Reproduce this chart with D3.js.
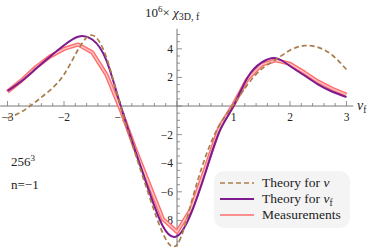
<!DOCTYPE html>
<html>
<head>
<meta charset="utf-8">
<script src="https://cdn.jsdelivr.net/npm/d3@7"></script>
<style>
  body { margin: 0; background: #fff; }
  svg text { font-family: "Liberation Serif", "Times New Roman", Times, "DejaVu Serif", serif; fill: #222; }
</style>
</head>
<body>
<div id="chart"></div>
<script>
var svgWidth = 374;
var svgHeight = 247;

// nu_f grid, step 0.25
var nu = [-3, -2.75, -2.5, -2.25, -2, -1.75, -1.5, -1.25, -1, -0.75, -0.5, -0.25,
          0, 0.25, 0.5, 0.75, 1, 1.25, 1.5, 1.75, 2, 2.25, 2.5, 2.75, 3];

var theoryNu = [-0.85, -0.4, 0.3, 1.1, 2.2, 3.95, 4.95, 3.4, 0.0, -3.2, -6.2, -8.9,
                -9.7, -6.8, -3.6, -1.35, 0.1, 1.5, 2.6, 3.25, 3.9, 4.22, 4.1, 3.55, 2.55];

var theoryNuF = [1.05, 1.75, 2.6, 3.45, 4.25, 4.85, 4.65, 3.2, 0.05, -3.0, -5.9, -8.4,
                 -9.1, -7.5, -4.7, -1.8, 0.0, 2.0, 3.05, 3.35, 2.8, 2.15, 1.5, 1.0, 0.62];

var measured = [1.0, 1.8, 2.7, 3.45, 4.0, 4.3, 3.75, 2.2, -0.2, -2.9, -5.4, -7.9,
                -8.8, -7.2, -4.4, -1.5, 0.1, 1.9, 2.9, 3.2, 2.95, 2.35, 1.7, 1.2, 0.8];

var xTicks = [-3, -2, -1, 1, 2, 3];
var yTicks = [-8, -6, -4, -2, 2, 4];

var legendLabels = ['Theory for ν', 'Theory for ν', 'Measurements'];

var colors = { nu: '#a97c4a', nuF: '#7d1a8f', meas: '#ff6e6e', measIn: '#ffc4c4' };

var serif = '"Liberation Serif", "Times New Roman", Times, "DejaVu Serif", serif';

var svg = d3.select('#chart')
    .append('svg')
    .attr('width', svgWidth)
    .attr('height', svgHeight)
    .attr('font-family', serif);

var x = d3.scaleLinear()
    .domain([-3, 3])
    .range([7.5, 346.5]);

var y = d3.scaleLinear()
    .domain([-9.9, 5.4])
    .range([247.6, 28.8]);

// x axis (ticks pointing up)
var xAxis = svg.append('g');
xAxis.append('line')
    .attr('x1', x(-3.13)).attr('x2', x(3.12))
    .attr('y1', y(0)).attr('y2', y(0))
    .attr('stroke', '#777').attr('stroke-width', 1);

var xMinor = d3.range(-15, 16).map(d => d / 5);
xAxis.selectAll('.xminor')
    .data(xMinor)
    .enter()
    .append('line')
    .attr('x1', d => x(d)).attr('x2', d => x(d))
    .attr('y1', y(0)).attr('y2', d => Math.abs(d - Math.round(d)) < 1e-6 ? y(0) - 5 : y(0) - 3)
    .attr('stroke', '#777').attr('stroke-width', 0.8);

xAxis.selectAll('.xlab')
    .data(xTicks)
    .enter()
    .append('text')
    .attr('x', d => x(d))
    .attr('y', y(0) + 15)
    .attr('text-anchor', 'middle')
    .style('font-size', '11.5px')
    .text(d => String(d).replace('-', '−'));

// y axis (ticks pointing right)
var yAxis = svg.append('g');
yAxis.append('line')
    .attr('x1', x(0)).attr('x2', x(0))
    .attr('y1', y(5.4)).attr('y2', svgHeight)
    .attr('stroke', '#777').attr('stroke-width', 1);

var yMinor = d3.range(-20, 11).map(d => d / 2);
yAxis.selectAll('.yminor')
    .data(yMinor)
    .enter()
    .append('line')
    .attr('x1', x(0))
    .attr('x2', d => d % 2 === 0 ? x(0) + 5 : x(0) + 3)
    .attr('y1', d => y(d)).attr('y2', d => y(d))
    .attr('stroke', '#777').attr('stroke-width', 0.8);

yAxis.selectAll('.ylab')
    .data(yTicks)
    .enter()
    .append('text')
    .attr('x', x(0) - 4)
    .attr('y', d => y(d) + 4)
    .attr('text-anchor', 'end')
    .style('font-size', '11.5px')
    .text(d => String(d).replace('-', '−'));

// axis labels
var yLabel = svg.append('text')
    .attr('x', 145)
    .attr('y', 17)
    .style('font-size', '13px');
yLabel.append('tspan').text('10');
yLabel.append('tspan').attr('dy', -5).style('font-size', '9px').text('6');
yLabel.append('tspan').attr('dy', 5).text('× ');
yLabel.append('tspan').style('font-style', 'italic').text('χ');
yLabel.append('tspan').attr('dy', 3).style('font-size', '10px').text('3D, f');

var xLabel = svg.append('text')
    .attr('x', 357)
    .attr('y', 110)
    .style('font-size', '14px');
xLabel.append('tspan').style('font-style', 'italic').text('ν');
xLabel.append('tspan').attr('dy', 3).style('font-size', '9.5px').text('f');

// annotation
var note = svg.append('text')
    .attr('x', 11)
    .attr('y', 166)
    .style('font-size', '13px');
note.append('tspan').text('256');
note.append('tspan').attr('dy', -5).style('font-size', '9px').text('3');
svg.append('text')
    .attr('x', 11)
    .attr('y', 189)
    .style('font-size', '13px')
    .text('n=−1');

// curves
var lineTheory = d3.line()
    .x((d, i) => x(nu[i]))
    .y(d => y(d))
    .curve(d3.curveNatural);

var lineMeas = d3.line()
    .x((d, i) => x(nu[i]))
    .y(d => y(d));

svg.append('defs').append('clipPath')
    .attr('id', 'plotclip')
    .append('rect')
    .attr('x', 0).attr('y', 0)
    .attr('width', svgWidth).attr('height', svgHeight);

var curves = svg.append('g').attr('clip-path', 'url(#plotclip)');

curves.append('path')
    .attr('d', lineMeas(measured))
    .attr('fill', 'none')
    .attr('stroke', colors.meas)
    .attr('stroke-width', 4.2)
    .attr('stroke-linejoin', 'round');

curves.append('path')
    .attr('d', lineMeas(measured))
    .attr('fill', 'none')
    .attr('stroke', colors.measIn)
    .attr('stroke-width', 1.4)
    .attr('stroke-linejoin', 'round');

curves.append('path')
    .attr('d', lineTheory(theoryNuF))
    .attr('fill', 'none')
    .attr('stroke', colors.nuF)
    .attr('stroke-width', 2);

curves.append('path')
    .attr('d', lineTheory(theoryNu))
    .attr('fill', 'none')
    .attr('stroke', colors.nu)
    .attr('stroke-width', 1.7)
    .attr('stroke-dasharray', '5,3');

// legend
var legend = svg.append('g');
legend.append('rect')
    .attr('x', 214).attr('y', 171)
    .attr('width', 136).attr('height', 57)
    .attr('rx', 10)
    .attr('fill', '#f4f4f4');

var legendStyles = [
    { color: colors.nu, width: 1.7, dash: '5,3' },
    { color: colors.nuF, width: 2, dash: null },
    { color: colors.meas, width: 1.5, dash: null }
];

legendStyles.forEach(function(s, i) {
    var ly = 183 + i * 16;
    legend.append('line')
        .attr('x1', 220).attr('x2', 254)
        .attr('y1', ly).attr('y2', ly)
        .attr('stroke', s.color)
        .attr('stroke-width', s.width)
        .attr('stroke-dasharray', s.dash);
    var t = legend.append('text')
        .attr('x', 262)
        .attr('y', ly + 4)
        .style('font-size', '13.5px');
    if (i < 2) {
        t.append('tspan').text('Theory for ');
        t.append('tspan').style('font-style', 'italic').text('ν');
        if (i === 1) t.append('tspan').attr('dy', 3).style('font-size', '9.5px').text('f');
    } else {
        t.text(legendLabels[i]);
    }
});
</script>
</body>
</html>
